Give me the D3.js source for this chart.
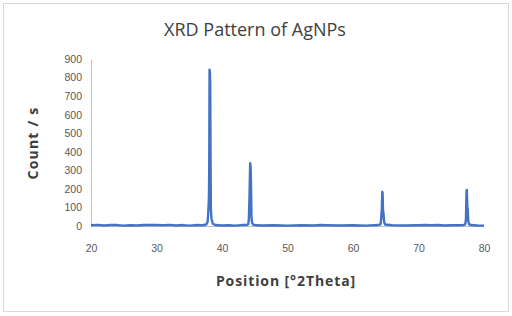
<!DOCTYPE html>
<html>
<head>
<meta charset="utf-8">
<script src="https://cdn.jsdelivr.net/npm/d3@7"></script>
<style>
  body { margin: 0; background: #fff; }
  svg { display: block; }
</style>
</head>
<body>
<svg width="512" height="316"></svg>
<script>
// 2theta positions (deg) and counts
var twoTheta = [20, 21, 22, 23, 24, 25, 26, 27, 28, 29, 30, 31, 32, 33, 34, 35, 36, 37,
  37.6, 37.8, 37.9, 38.0, 38.05, 38.1, 38.15, 38.2, 38.25, 38.3, 38.4, 38.6, 39, 40, 41, 42, 43, 43.8,
  44.0, 44.1, 44.2, 44.3, 44.35, 44.42, 44.5, 44.6, 44.8, 46, 48, 50, 52, 54, 55, 56, 58, 60, 62, 63.8,
  64.2, 64.3, 64.4, 64.47, 64.52, 64.58, 64.65, 64.75, 64.9, 66, 68, 70, 71, 72, 73, 74, 75, 76, 76.9,
  77.15, 77.25, 77.33, 77.38, 77.45, 77.52, 77.6, 77.75, 78, 79, 80];
var counts = [4, 6, 3, 5, 5, 2, 4, 3, 5, 6, 5, 4, 6, 3, 5, 2, 5, 4,
  8, 22, 70, 150, 300, 842, 830, 770, 380, 90, 38, 12, 5, 3, 4, 2, 5, 5,
  9, 35, 160, 338, 330, 250, 45, 16, 6, 3, 4, 2, 4, 3, 5, 4, 3, 4, 2, 5,
  9, 40, 90, 185, 178, 85, 70, 22, 8, 4, 3, 4, 5, 4, 5, 3, 4, 4, 5,
  10, 40, 188, 194, 105, 90, 25, 9, 5, 3, 2];

var xTicks = [20, 30, 40, 50, 60, 70, 80];
var yTicks = [0, 100, 200, 300, 400, 500, 600, 700, 800, 900];

var data = twoTheta.map(function(t, i) {
  return {pos: t, count: counts[i]};
});

var svg = d3.select('svg'),
  margin = {top: 59, left: 91, right: 28, bottom: 90},
  width = 512 - margin.left - margin.right,
  height = 316 - margin.top - margin.bottom;

var txt = '#595959',
  blue = '#4472c4';

// outer chart frame
svg.append('rect')
  .attr('x', 3.5).attr('y', 3.5)
  .attr('width', 505).attr('height', 308)
  .attr('fill', '#fff')
  .attr('stroke', '#d9d9d9');

svg.append('text')
  .attr('x', 255).attr('y', 36)
  .attr('text-anchor', 'middle')
  .style('font', '18px "Open Sans", sans-serif')
  .attr('fill', '#404040')
  .text('XRD Pattern of AgNPs');

var g = svg.append('g')
  .attr('transform', 'translate(' + margin.left + ',' + margin.top + ')');

var x = d3.scaleLinear().domain([20, 80]).range([0, width]),
  y = d3.scaleLinear().domain([0, 900]).range([height, 0]);

var yAxis = g.append('g')
  .call(d3.axisLeft(y).tickValues(yTicks).tickSize(0).tickPadding(9));
yAxis.select('.domain').attr('stroke', '#bfbfbf');
yAxis.selectAll('text')
  .attr('fill', txt)
  .style('font', '10.5px "Liberation Sans", Arial, sans-serif');

var xAxis = g.append('g')
  .attr('transform', 'translate(0,' + height + ')')
  .call(d3.axisBottom(x).tickValues(xTicks).tickSize(0).tickPadding(19));
xAxis.select('.domain').attr('stroke', '#bfbfbf');
xAxis.selectAll('text')
  .attr('fill', txt)
  .style('font', '10.5px "Liberation Sans", Arial, sans-serif');

var line = d3.line()
  .x(function(d) { return x(d.pos); })
  .y(function(d) { return y(d.count); });

g.append('path')
  .datum(data)
  .attr('d', line)
  .attr('fill', 'none')
  .attr('stroke', blue)
  .attr('stroke-width', 2.4)
  .attr('stroke-linejoin', 'round');

svg.append('text')
  .attr('transform', 'translate(38,143) rotate(-90)')
  .attr('text-anchor', 'middle')
  .style('font', 'bold 14px "Open Sans", sans-serif')
  .style('letter-spacing', '1.2px')
  .attr('fill', '#404040')
  .text('Count / s');

svg.append('text')
  .attr('x', 286).attr('y', 286)
  .attr('text-anchor', 'middle')
  .style('font', 'bold 14px "Open Sans", sans-serif')
  .style('letter-spacing', '0.9px')
  .attr('fill', '#404040')
  .text('Position [°2Theta]');
</script>
</body>
</html>
